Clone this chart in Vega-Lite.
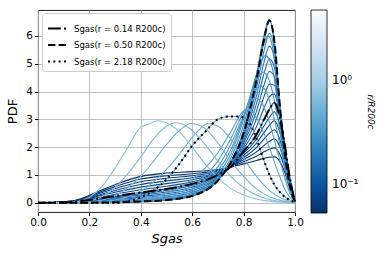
{
"$schema":"https://vega.github.io/schema/vega-lite/v6.json",
"width":257,"height":202,
"autosize":"none",
"padding":{"left":38,"top":10,"right":95,"bottom":48},
"config":{"font":"DejaVu Sans","view":{"stroke":"black","strokeWidth":0.9},
"axis":{"gridColor":"#b0b0b0","gridWidth":0.8,"gridOpacity":1,"domain":false,"tickColor":"black","tickSize":3.5,"labelFontSize":10.5,"labelColor":"black","titleColor":"black","titleFontWeight":"normal","titleFontSize":13,"labelPadding":2,"labelFlush":false}},
"datasets":{
"blue":[
{"r":0.055,"s":0,"p":0},{"r":0.055,"s":0.1,"p":0.04},{"r":0.055,"s":0.15,"p":0.1},{"r":0.055,"s":0.2,"p":0.27},{"r":0.055,"s":0.25,"p":0.47},{"r":0.055,"s":0.3,"p":0.65},{"r":0.055,"s":0.4,"p":0.95},{"r":0.055,"s":0.5,"p":1.07},{"r":0.055,"s":0.6,"p":1.12},{"r":0.055,"s":0.7,"p":1.2},{"r":0.055,"s":0.75,"p":1.28},{"r":0.055,"s":0.8,"p":1.4},{"r":0.055,"s":0.85,"p":1.52},{"r":0.055,"s":0.88,"p":1.6},{"r":0.055,"s":0.9,"p":1.64},{"r":0.055,"s":0.92,"p":1.65},{"r":0.055,"s":0.94,"p":1.5},{"r":0.055,"s":0.96,"p":1.1},{"r":0.055,"s":0.98,"p":0.5},{"r":0.055,"s":1,"p":0.05},
{"r":0.064,"s":0,"p":0},{"r":0.064,"s":0.1,"p":0.035},{"r":0.064,"s":0.15,"p":0.09},{"r":0.064,"s":0.2,"p":0.242},{"r":0.064,"s":0.25,"p":0.42},{"r":0.064,"s":0.3,"p":0.582},{"r":0.064,"s":0.4,"p":0.853},{"r":0.064,"s":0.5,"p":0.975},{"r":0.064,"s":0.6,"p":1.047},{"r":0.064,"s":0.7,"p":1.167},{"r":0.064,"s":0.75,"p":1.283},{"r":0.064,"s":0.8,"p":1.475},{"r":0.064,"s":0.85,"p":1.675},{"r":0.064,"s":0.88,"p":1.833},{"r":0.064,"s":0.9,"p":1.925},{"r":0.064,"s":0.92,"p":1.975},{"r":0.064,"s":0.94,"p":1.767},{"r":0.064,"s":0.96,"p":1.267},{"r":0.064,"s":0.98,"p":0.567},{"r":0.064,"s":1,"p":0.05},
{"r":0.075,"s":0,"p":0},{"r":0.075,"s":0.1,"p":0.03},{"r":0.075,"s":0.15,"p":0.08},{"r":0.075,"s":0.2,"p":0.213},{"r":0.075,"s":0.25,"p":0.37},{"r":0.075,"s":0.3,"p":0.513},{"r":0.075,"s":0.4,"p":0.757},{"r":0.075,"s":0.5,"p":0.88},{"r":0.075,"s":0.6,"p":0.973},{"r":0.075,"s":0.7,"p":1.133},{"r":0.075,"s":0.75,"p":1.287},{"r":0.075,"s":0.8,"p":1.55},{"r":0.075,"s":0.85,"p":1.83},{"r":0.075,"s":0.88,"p":2.067},{"r":0.075,"s":0.9,"p":2.21},{"r":0.075,"s":0.92,"p":2.3},{"r":0.075,"s":0.94,"p":2.033},{"r":0.075,"s":0.96,"p":1.433},{"r":0.075,"s":0.98,"p":0.633},{"r":0.075,"s":1,"p":0.05},
{"r":0.088,"s":0,"p":0},{"r":0.088,"s":0.1,"p":0.025},{"r":0.088,"s":0.15,"p":0.07},{"r":0.088,"s":0.2,"p":0.185},{"r":0.088,"s":0.25,"p":0.32},{"r":0.088,"s":0.3,"p":0.445},{"r":0.088,"s":0.4,"p":0.66},{"r":0.088,"s":0.5,"p":0.785},{"r":0.088,"s":0.6,"p":0.9},{"r":0.088,"s":0.7,"p":1.1},{"r":0.088,"s":0.75,"p":1.29},{"r":0.088,"s":0.8,"p":1.625},{"r":0.088,"s":0.85,"p":1.985},{"r":0.088,"s":0.88,"p":2.3},{"r":0.088,"s":0.9,"p":2.495},{"r":0.088,"s":0.92,"p":2.625},{"r":0.088,"s":0.94,"p":2.3},{"r":0.088,"s":0.96,"p":1.6},{"r":0.088,"s":0.98,"p":0.7},{"r":0.088,"s":1,"p":0.05},
{"r":0.105,"s":0,"p":0},{"r":0.105,"s":0.1,"p":0.02},{"r":0.105,"s":0.15,"p":0.06},{"r":0.105,"s":0.2,"p":0.157},{"r":0.105,"s":0.25,"p":0.27},{"r":0.105,"s":0.3,"p":0.377},{"r":0.105,"s":0.4,"p":0.563},{"r":0.105,"s":0.5,"p":0.69},{"r":0.105,"s":0.6,"p":0.827},{"r":0.105,"s":0.7,"p":1.067},{"r":0.105,"s":0.75,"p":1.293},{"r":0.105,"s":0.8,"p":1.7},{"r":0.105,"s":0.85,"p":2.14},{"r":0.105,"s":0.88,"p":2.533},{"r":0.105,"s":0.9,"p":2.78},{"r":0.105,"s":0.92,"p":2.95},{"r":0.105,"s":0.94,"p":2.567},{"r":0.105,"s":0.96,"p":1.767},{"r":0.105,"s":0.98,"p":0.767},{"r":0.105,"s":1,"p":0.05},
{"r":0.125,"s":0,"p":0},{"r":0.125,"s":0.1,"p":0.015},{"r":0.125,"s":0.15,"p":0.05},{"r":0.125,"s":0.2,"p":0.128},{"r":0.125,"s":0.25,"p":0.22},{"r":0.125,"s":0.3,"p":0.308},{"r":0.125,"s":0.4,"p":0.467},{"r":0.125,"s":0.5,"p":0.595},{"r":0.125,"s":0.6,"p":0.753},{"r":0.125,"s":0.7,"p":1.033},{"r":0.125,"s":0.75,"p":1.297},{"r":0.125,"s":0.8,"p":1.775},{"r":0.125,"s":0.85,"p":2.295},{"r":0.125,"s":0.88,"p":2.767},{"r":0.125,"s":0.9,"p":3.065},{"r":0.125,"s":0.92,"p":3.275},{"r":0.125,"s":0.94,"p":2.833},{"r":0.125,"s":0.96,"p":1.933},{"r":0.125,"s":0.98,"p":0.833},{"r":0.125,"s":1,"p":0.05},
{"r":0.14,"s":0,"p":0},{"r":0.14,"s":0.1,"p":0.01},{"r":0.14,"s":0.15,"p":0.04},{"r":0.14,"s":0.2,"p":0.1},{"r":0.14,"s":0.25,"p":0.17},{"r":0.14,"s":0.3,"p":0.24},{"r":0.14,"s":0.4,"p":0.37},{"r":0.14,"s":0.5,"p":0.5},{"r":0.14,"s":0.6,"p":0.68},{"r":0.14,"s":0.7,"p":1.0},{"r":0.14,"s":0.75,"p":1.3},{"r":0.14,"s":0.8,"p":1.85},{"r":0.14,"s":0.85,"p":2.45},{"r":0.14,"s":0.88,"p":3.0},{"r":0.14,"s":0.9,"p":3.35},{"r":0.14,"s":0.92,"p":3.6},{"r":0.14,"s":0.94,"p":3.1},{"r":0.14,"s":0.96,"p":2.1},{"r":0.14,"s":0.98,"p":0.9},{"r":0.14,"s":1,"p":0.05},
{"r":0.165,"s":0,"p":0},{"r":0.165,"s":0.1,"p":0.009},{"r":0.165,"s":0.15,"p":0.034},{"r":0.165,"s":0.2,"p":0.086},{"r":0.165,"s":0.25,"p":0.147},{"r":0.165,"s":0.3,"p":0.209},{"r":0.165,"s":0.4,"p":0.324},{"r":0.165,"s":0.5,"p":0.443},{"r":0.165,"s":0.6,"p":0.619},{"r":0.165,"s":0.7,"p":0.971},{"r":0.165,"s":0.75,"p":1.321},{"r":0.165,"s":0.8,"p":1.943},{"r":0.165,"s":0.85,"p":2.729},{"r":0.165,"s":0.88,"p":3.414},{"r":0.165,"s":0.9,"p":3.807},{"r":0.165,"s":0.92,"p":3.914},{"r":0.165,"s":0.94,"p":3.171},{"r":0.165,"s":0.96,"p":2.057},{"r":0.165,"s":0.98,"p":0.857},{"r":0.165,"s":1,"p":0.05},
{"r":0.2,"s":0,"p":0},{"r":0.2,"s":0.1,"p":0.007},{"r":0.2,"s":0.15,"p":0.029},{"r":0.2,"s":0.2,"p":0.073},{"r":0.2,"s":0.25,"p":0.124},{"r":0.2,"s":0.3,"p":0.177},{"r":0.2,"s":0.4,"p":0.279},{"r":0.2,"s":0.5,"p":0.386},{"r":0.2,"s":0.6,"p":0.557},{"r":0.2,"s":0.7,"p":0.943},{"r":0.2,"s":0.75,"p":1.343},{"r":0.2,"s":0.8,"p":2.036},{"r":0.2,"s":0.85,"p":3.007},{"r":0.2,"s":0.88,"p":3.829},{"r":0.2,"s":0.9,"p":4.264},{"r":0.2,"s":0.92,"p":4.229},{"r":0.2,"s":0.94,"p":3.243},{"r":0.2,"s":0.96,"p":2.014},{"r":0.2,"s":0.98,"p":0.814},{"r":0.2,"s":1,"p":0.05},
{"r":0.24,"s":0,"p":0},{"r":0.24,"s":0.1,"p":0.006},{"r":0.24,"s":0.15,"p":0.023},{"r":0.24,"s":0.2,"p":0.059},{"r":0.24,"s":0.25,"p":0.101},{"r":0.24,"s":0.3,"p":0.146},{"r":0.24,"s":0.4,"p":0.233},{"r":0.24,"s":0.5,"p":0.329},{"r":0.24,"s":0.6,"p":0.496},{"r":0.24,"s":0.7,"p":0.914},{"r":0.24,"s":0.75,"p":1.364},{"r":0.24,"s":0.8,"p":2.129},{"r":0.24,"s":0.85,"p":3.286},{"r":0.24,"s":0.88,"p":4.243},{"r":0.24,"s":0.9,"p":4.721},{"r":0.24,"s":0.92,"p":4.543},{"r":0.24,"s":0.94,"p":3.314},{"r":0.24,"s":0.96,"p":1.971},{"r":0.24,"s":0.98,"p":0.771},{"r":0.24,"s":1,"p":0.05},
{"r":0.29,"s":0,"p":0},{"r":0.29,"s":0.1,"p":0.004},{"r":0.29,"s":0.15,"p":0.017},{"r":0.29,"s":0.2,"p":0.046},{"r":0.29,"s":0.25,"p":0.079},{"r":0.29,"s":0.3,"p":0.114},{"r":0.29,"s":0.4,"p":0.187},{"r":0.29,"s":0.5,"p":0.271},{"r":0.29,"s":0.6,"p":0.434},{"r":0.29,"s":0.7,"p":0.886},{"r":0.29,"s":0.75,"p":1.386},{"r":0.29,"s":0.8,"p":2.221},{"r":0.29,"s":0.85,"p":3.564},{"r":0.29,"s":0.88,"p":4.657},{"r":0.29,"s":0.9,"p":5.179},{"r":0.29,"s":0.92,"p":4.857},{"r":0.29,"s":0.94,"p":3.386},{"r":0.29,"s":0.96,"p":1.929},{"r":0.29,"s":0.98,"p":0.729},{"r":0.29,"s":1,"p":0.05},
{"r":0.35,"s":0,"p":0},{"r":0.35,"s":0.1,"p":0.003},{"r":0.35,"s":0.15,"p":0.011},{"r":0.35,"s":0.2,"p":0.032},{"r":0.35,"s":0.25,"p":0.056},{"r":0.35,"s":0.3,"p":0.083},{"r":0.35,"s":0.4,"p":0.141},{"r":0.35,"s":0.5,"p":0.214},{"r":0.35,"s":0.6,"p":0.373},{"r":0.35,"s":0.7,"p":0.857},{"r":0.35,"s":0.75,"p":1.407},{"r":0.35,"s":0.8,"p":2.314},{"r":0.35,"s":0.85,"p":3.843},{"r":0.35,"s":0.88,"p":5.071},{"r":0.35,"s":0.9,"p":5.636},{"r":0.35,"s":0.92,"p":5.171},{"r":0.35,"s":0.94,"p":3.457},{"r":0.35,"s":0.96,"p":1.886},{"r":0.35,"s":0.98,"p":0.686},{"r":0.35,"s":1,"p":0.05},
{"r":0.42,"s":0,"p":0},{"r":0.42,"s":0.1,"p":0.001},{"r":0.42,"s":0.15,"p":0.006},{"r":0.42,"s":0.2,"p":0.019},{"r":0.42,"s":0.25,"p":0.033},{"r":0.42,"s":0.3,"p":0.051},{"r":0.42,"s":0.4,"p":0.096},{"r":0.42,"s":0.5,"p":0.157},{"r":0.42,"s":0.6,"p":0.311},{"r":0.42,"s":0.7,"p":0.829},{"r":0.42,"s":0.75,"p":1.429},{"r":0.42,"s":0.8,"p":2.407},{"r":0.42,"s":0.85,"p":4.121},{"r":0.42,"s":0.88,"p":5.486},{"r":0.42,"s":0.9,"p":6.093},{"r":0.42,"s":0.92,"p":5.486},{"r":0.42,"s":0.94,"p":3.529},{"r":0.42,"s":0.96,"p":1.843},{"r":0.42,"s":0.98,"p":0.643},{"r":0.42,"s":1,"p":0.05},
{"r":0.5,"s":0,"p":0},{"r":0.5,"s":0.1,"p":0},{"r":0.5,"s":0.15,"p":0},{"r":0.5,"s":0.2,"p":0.005},{"r":0.5,"s":0.25,"p":0.01},{"r":0.5,"s":0.3,"p":0.02},{"r":0.5,"s":0.4,"p":0.05},{"r":0.5,"s":0.5,"p":0.1},{"r":0.5,"s":0.6,"p":0.25},{"r":0.5,"s":0.7,"p":0.8},{"r":0.5,"s":0.75,"p":1.45},{"r":0.5,"s":0.8,"p":2.5},{"r":0.5,"s":0.85,"p":4.4},{"r":0.5,"s":0.88,"p":5.9},{"r":0.5,"s":0.9,"p":6.55},{"r":0.5,"s":0.92,"p":5.8},{"r":0.5,"s":0.94,"p":3.6},{"r":0.5,"s":0.96,"p":1.8},{"r":0.5,"s":0.98,"p":0.6},{"r":0.5,"s":1,"p":0.05},
{"r":0.6,"s":0,"p":0},{"r":0.6,"s":0.3,"p":0.01},{"r":0.6,"s":0.4,"p":0.04},{"r":0.6,"s":0.5,"p":0.09},{"r":0.6,"s":0.6,"p":0.24},{"r":0.6,"s":0.65,"p":0.45},{"r":0.6,"s":0.7,"p":0.8},{"r":0.6,"s":0.75,"p":1.45},{"r":0.6,"s":0.8,"p":2.6},{"r":0.6,"s":0.85,"p":4.6},{"r":0.6,"s":0.88,"p":6.05},{"r":0.6,"s":0.9,"p":6.6},{"r":0.6,"s":0.92,"p":5.7},{"r":0.6,"s":0.94,"p":3.5},{"r":0.6,"s":0.96,"p":1.7},{"r":0.6,"s":0.98,"p":0.55},{"r":0.6,"s":1,"p":0.05},
{"r":0.72,"s":0,"p":0},{"r":0.72,"s":0.3,"p":0.01},{"r":0.72,"s":0.4,"p":0.04},{"r":0.72,"s":0.5,"p":0.1},{"r":0.72,"s":0.6,"p":0.28},{"r":0.72,"s":0.65,"p":0.52},{"r":0.72,"s":0.7,"p":0.9},{"r":0.72,"s":0.75,"p":1.6},{"r":0.72,"s":0.8,"p":2.8},{"r":0.72,"s":0.85,"p":4.6},{"r":0.72,"s":0.875,"p":5.6},{"r":0.72,"s":0.895,"p":6.0},{"r":0.72,"s":0.92,"p":5.2},{"r":0.72,"s":0.94,"p":3.4},{"r":0.72,"s":0.96,"p":1.6},{"r":0.72,"s":0.98,"p":0.5},{"r":0.72,"s":1,"p":0.04},
{"r":0.87,"s":0,"p":0},{"r":0.87,"s":0.3,"p":0.01},{"r":0.87,"s":0.4,"p":0.05},{"r":0.87,"s":0.5,"p":0.12},{"r":0.87,"s":0.6,"p":0.33},{"r":0.87,"s":0.65,"p":0.6},{"r":0.87,"s":0.7,"p":1.02},{"r":0.87,"s":0.75,"p":1.75},{"r":0.87,"s":0.8,"p":3.0},{"r":0.87,"s":0.85,"p":4.6},{"r":0.87,"s":0.885,"p":5.3},{"r":0.87,"s":0.91,"p":4.9},{"r":0.87,"s":0.935,"p":3.5},{"r":0.87,"s":0.96,"p":1.6},{"r":0.87,"s":0.98,"p":0.5},{"r":0.87,"s":1,"p":0.04},
{"r":1.04,"s":0,"p":0},{"r":1.04,"s":0.3,"p":0.02},{"r":1.04,"s":0.4,"p":0.06},{"r":1.04,"s":0.5,"p":0.15},{"r":1.04,"s":0.6,"p":0.4},{"r":1.04,"s":0.65,"p":0.7},{"r":1.04,"s":0.7,"p":1.15},{"r":1.04,"s":0.75,"p":1.9},{"r":1.04,"s":0.8,"p":3.1},{"r":1.04,"s":0.85,"p":4.4},{"r":1.04,"s":0.875,"p":4.7},{"r":1.04,"s":0.9,"p":4.4},{"r":1.04,"s":0.93,"p":3.2},{"r":1.04,"s":0.96,"p":1.5},{"r":1.04,"s":0.98,"p":0.5},{"r":1.04,"s":1,"p":0.04},
{"r":1.25,"s":0,"p":0},{"r":1.25,"s":0.3,"p":0.02},{"r":1.25,"s":0.4,"p":0.07},{"r":1.25,"s":0.5,"p":0.18},{"r":1.25,"s":0.6,"p":0.48},{"r":1.25,"s":0.65,"p":0.82},{"r":1.25,"s":0.7,"p":1.3},{"r":1.25,"s":0.75,"p":2.1},{"r":1.25,"s":0.8,"p":3.15},{"r":1.25,"s":0.84,"p":4.0},{"r":1.25,"s":0.865,"p":4.2},{"r":1.25,"s":0.89,"p":3.95},{"r":1.25,"s":0.92,"p":3.0},{"r":1.25,"s":0.95,"p":1.7},{"r":1.25,"s":0.98,"p":0.5},{"r":1.25,"s":1,"p":0.04},
{"r":1.5,"s":0,"p":0},{"r":1.5,"s":0.3,"p":0.03},{"r":1.5,"s":0.4,"p":0.09},{"r":1.5,"s":0.5,"p":0.24},{"r":1.5,"s":0.6,"p":0.6},{"r":1.5,"s":0.65,"p":0.98},{"r":1.5,"s":0.7,"p":1.5},{"r":1.5,"s":0.75,"p":2.3},{"r":1.5,"s":0.8,"p":3.25},{"r":1.5,"s":0.845,"p":3.75},{"r":1.5,"s":0.87,"p":3.6},{"r":1.5,"s":0.9,"p":2.9},{"r":1.5,"s":0.93,"p":1.9},{"r":1.5,"s":0.96,"p":0.9},{"r":1.5,"s":0.98,"p":0.35},{"r":1.5,"s":1,"p":0.03},
{"r":1.81,"s":0,"p":0},{"r":1.81,"s":0.3,"p":0.02},{"r":1.81,"s":0.35,"p":0.05},{"r":1.81,"s":0.4,"p":0.12},{"r":1.81,"s":0.45,"p":0.2},{"r":1.81,"s":0.5,"p":0.35},{"r":1.81,"s":0.55,"p":0.55},{"r":1.81,"s":0.6,"p":0.85},{"r":1.81,"s":0.65,"p":1.25},{"r":1.81,"s":0.7,"p":1.8},{"r":1.81,"s":0.75,"p":2.55},{"r":1.81,"s":0.81,"p":3.35},{"r":1.81,"s":0.84,"p":3.2},{"r":1.81,"s":0.87,"p":2.7},{"r":1.81,"s":0.9,"p":2.0},{"r":1.81,"s":0.93,"p":1.2},{"r":1.81,"s":0.96,"p":0.5},{"r":1.81,"s":0.98,"p":0.2},{"r":1.81,"s":1,"p":0.02},
{"r":2.18,"s":0,"p":0},{"r":2.18,"s":0.3,"p":0},{"r":2.18,"s":0.35,"p":0.05},{"r":2.18,"s":0.4,"p":0.2},{"r":2.18,"s":0.45,"p":0.45},{"r":2.18,"s":0.5,"p":0.85},{"r":2.18,"s":0.55,"p":1.4},{"r":2.18,"s":0.6,"p":2.05},{"r":2.18,"s":0.65,"p":2.55},{"r":2.18,"s":0.7,"p":3.0},{"r":2.18,"s":0.74,"p":3.1},{"r":2.18,"s":0.78,"p":3.1},{"r":2.18,"s":0.81,"p":3.0},{"r":2.18,"s":0.84,"p":2.55},{"r":2.18,"s":0.865,"p":1.9},{"r":2.18,"s":0.89,"p":1.25},{"r":2.18,"s":0.92,"p":0.65},{"r":2.18,"s":0.95,"p":0.3},{"r":2.18,"s":0.97,"p":0.15},{"r":2.18,"s":1,"p":0.02},
{"r":2.6,"s":0,"p":0},{"r":2.6,"s":0.2,"p":0.01},{"r":2.6,"s":0.25,"p":0.04},{"r":2.6,"s":0.3,"p":0.1},{"r":2.6,"s":0.35,"p":0.22},{"r":2.6,"s":0.4,"p":0.42},{"r":2.6,"s":0.45,"p":0.75},{"r":2.6,"s":0.5,"p":1.2},{"r":2.6,"s":0.55,"p":1.75},{"r":2.6,"s":0.6,"p":2.35},{"r":2.6,"s":0.63,"p":2.65},{"r":2.6,"s":0.66,"p":2.85},{"r":2.6,"s":0.7,"p":2.75},{"r":2.6,"s":0.75,"p":2.3},{"r":2.6,"s":0.8,"p":1.6},{"r":2.6,"s":0.85,"p":0.95},{"r":2.6,"s":0.9,"p":0.45},{"r":2.6,"s":0.95,"p":0.15},{"r":2.6,"s":1,"p":0.01},
{"r":3.1,"s":0,"p":0},{"r":3.1,"s":0.15,"p":0.01},{"r":3.1,"s":0.2,"p":0.03},{"r":3.1,"s":0.25,"p":0.1},{"r":3.1,"s":0.3,"p":0.25},{"r":3.1,"s":0.35,"p":0.55},{"r":3.1,"s":0.4,"p":0.95},{"r":3.1,"s":0.45,"p":1.5},{"r":3.1,"s":0.5,"p":2.1},{"r":3.1,"s":0.55,"p":2.6},{"r":3.1,"s":0.595,"p":2.85},{"r":3.1,"s":0.63,"p":2.78},{"r":3.1,"s":0.67,"p":2.5},{"r":3.1,"s":0.7,"p":2.15},{"r":3.1,"s":0.75,"p":1.5},{"r":3.1,"s":0.8,"p":0.95},{"r":3.1,"s":0.85,"p":0.5},{"r":3.1,"s":0.9,"p":0.22},{"r":3.1,"s":0.95,"p":0.07},{"r":3.1,"s":1,"p":0},
{"r":3.7,"s":0,"p":0},{"r":3.7,"s":0.1,"p":0},{"r":3.7,"s":0.15,"p":0.02},{"r":3.7,"s":0.2,"p":0.07},{"r":3.7,"s":0.25,"p":0.22},{"r":3.7,"s":0.3,"p":0.55},{"r":3.7,"s":0.35,"p":1.05},{"r":3.7,"s":0.4,"p":1.65},{"r":3.7,"s":0.45,"p":2.3},{"r":3.7,"s":0.5,"p":2.75},{"r":3.7,"s":0.535,"p":2.88},{"r":3.7,"s":0.57,"p":2.8},{"r":3.7,"s":0.6,"p":2.6},{"r":3.7,"s":0.65,"p":2.1},{"r":3.7,"s":0.7,"p":1.5},{"r":3.7,"s":0.75,"p":0.95},{"r":3.7,"s":0.8,"p":0.55},{"r":3.7,"s":0.85,"p":0.28},{"r":3.7,"s":0.9,"p":0.12},{"r":3.7,"s":0.95,"p":0.04},{"r":3.7,"s":1,"p":0},
{"r":4.5,"s":0,"p":0},{"r":4.5,"s":0.05,"p":0},{"r":4.5,"s":0.1,"p":0.01},{"r":4.5,"s":0.15,"p":0.04},{"r":4.5,"s":0.2,"p":0.2},{"r":4.5,"s":0.25,"p":0.6},{"r":4.5,"s":0.3,"p":1.25},{"r":4.5,"s":0.35,"p":2.0},{"r":4.5,"s":0.4,"p":2.72},{"r":4.5,"s":0.43,"p":2.82},{"r":4.5,"s":0.465,"p":2.95},{"r":4.5,"s":0.5,"p":2.88},{"r":4.5,"s":0.55,"p":2.55},{"r":4.5,"s":0.6,"p":2.0},{"r":4.5,"s":0.65,"p":1.4},{"r":4.5,"s":0.7,"p":0.9},{"r":4.5,"s":0.75,"p":0.52},{"r":4.5,"s":0.8,"p":0.28},{"r":4.5,"s":0.85,"p":0.14},{"r":4.5,"s":0.9,"p":0.06},{"r":4.5,"s":0.95,"p":0.02},{"r":4.5,"s":1,"p":0}
],
"black":[
{"k":"Sgas(r = 0.14 R200c)","s":0,"p":0},{"k":"Sgas(r = 0.14 R200c)","s":0.1,"p":0.01},{"k":"Sgas(r = 0.14 R200c)","s":0.15,"p":0.04},{"k":"Sgas(r = 0.14 R200c)","s":0.2,"p":0.1},{"k":"Sgas(r = 0.14 R200c)","s":0.25,"p":0.17},{"k":"Sgas(r = 0.14 R200c)","s":0.3,"p":0.24},{"k":"Sgas(r = 0.14 R200c)","s":0.4,"p":0.37},{"k":"Sgas(r = 0.14 R200c)","s":0.5,"p":0.5},{"k":"Sgas(r = 0.14 R200c)","s":0.6,"p":0.68},{"k":"Sgas(r = 0.14 R200c)","s":0.7,"p":1.0},{"k":"Sgas(r = 0.14 R200c)","s":0.75,"p":1.3},{"k":"Sgas(r = 0.14 R200c)","s":0.8,"p":1.85},{"k":"Sgas(r = 0.14 R200c)","s":0.85,"p":2.45},{"k":"Sgas(r = 0.14 R200c)","s":0.88,"p":3.0},{"k":"Sgas(r = 0.14 R200c)","s":0.9,"p":3.35},{"k":"Sgas(r = 0.14 R200c)","s":0.92,"p":3.6},{"k":"Sgas(r = 0.14 R200c)","s":0.94,"p":3.1},{"k":"Sgas(r = 0.14 R200c)","s":0.96,"p":2.1},{"k":"Sgas(r = 0.14 R200c)","s":0.98,"p":0.9},{"k":"Sgas(r = 0.14 R200c)","s":1,"p":0.05},
{"k":"Sgas(r = 0.50 R200c)","s":0,"p":0},{"k":"Sgas(r = 0.50 R200c)","s":0.1,"p":0},{"k":"Sgas(r = 0.50 R200c)","s":0.15,"p":0},{"k":"Sgas(r = 0.50 R200c)","s":0.2,"p":0.005},{"k":"Sgas(r = 0.50 R200c)","s":0.25,"p":0.01},{"k":"Sgas(r = 0.50 R200c)","s":0.3,"p":0.02},{"k":"Sgas(r = 0.50 R200c)","s":0.4,"p":0.05},{"k":"Sgas(r = 0.50 R200c)","s":0.5,"p":0.1},{"k":"Sgas(r = 0.50 R200c)","s":0.6,"p":0.25},{"k":"Sgas(r = 0.50 R200c)","s":0.7,"p":0.8},{"k":"Sgas(r = 0.50 R200c)","s":0.75,"p":1.45},{"k":"Sgas(r = 0.50 R200c)","s":0.8,"p":2.5},{"k":"Sgas(r = 0.50 R200c)","s":0.85,"p":4.4},{"k":"Sgas(r = 0.50 R200c)","s":0.88,"p":5.9},{"k":"Sgas(r = 0.50 R200c)","s":0.9,"p":6.55},{"k":"Sgas(r = 0.50 R200c)","s":0.92,"p":5.8},{"k":"Sgas(r = 0.50 R200c)","s":0.94,"p":3.6},{"k":"Sgas(r = 0.50 R200c)","s":0.96,"p":1.8},{"k":"Sgas(r = 0.50 R200c)","s":0.98,"p":0.6},{"k":"Sgas(r = 0.50 R200c)","s":1,"p":0.05},
{"k":"Sgas(r = 2.18 R200c)","s":0,"p":0},{"k":"Sgas(r = 2.18 R200c)","s":0.3,"p":0},{"k":"Sgas(r = 2.18 R200c)","s":0.35,"p":0.05},{"k":"Sgas(r = 2.18 R200c)","s":0.4,"p":0.2},{"k":"Sgas(r = 2.18 R200c)","s":0.45,"p":0.45},{"k":"Sgas(r = 2.18 R200c)","s":0.5,"p":0.85},{"k":"Sgas(r = 2.18 R200c)","s":0.55,"p":1.4},{"k":"Sgas(r = 2.18 R200c)","s":0.6,"p":2.05},{"k":"Sgas(r = 2.18 R200c)","s":0.65,"p":2.55},{"k":"Sgas(r = 2.18 R200c)","s":0.7,"p":3.0},{"k":"Sgas(r = 2.18 R200c)","s":0.74,"p":3.1},{"k":"Sgas(r = 2.18 R200c)","s":0.78,"p":3.1},{"k":"Sgas(r = 2.18 R200c)","s":0.81,"p":3.0},{"k":"Sgas(r = 2.18 R200c)","s":0.84,"p":2.55},{"k":"Sgas(r = 2.18 R200c)","s":0.865,"p":1.9},{"k":"Sgas(r = 2.18 R200c)","s":0.89,"p":1.25},{"k":"Sgas(r = 2.18 R200c)","s":0.92,"p":0.65},{"k":"Sgas(r = 2.18 R200c)","s":0.95,"p":0.3},{"k":"Sgas(r = 2.18 R200c)","s":0.97,"p":0.15},{"k":"Sgas(r = 2.18 R200c)","s":1,"p":0.02}
]},
"encoding":{
"x":{"field":"s","type":"quantitative","scale":{"domain":[0,1],"nice":false},"axis":{"values":[0,0.2,0.4,0.6,0.8,1],"format":".1f","title":"Sgas","titleFontStyle":"italic","titlePadding":4}},
"y":{"field":"p","type":"quantitative","scale":{"domain":[-0.33,6.93],"nice":false,"zero":false},"axis":{"values":[0,1,2,3,4,5,6],"format":"d","title":"PDF","titlePadding":6}}
},
"resolve":{"legend":{"fill":"independent","stroke":"independent","strokeDash":"independent"},"scale":{"fill":"independent","stroke":"independent"}},
"layer":[
{"data":{"name":"blue"},"mark":{"type":"line","interpolate":"monotone","strokeWidth":1.1},
"encoding":{"detail":{"field":"r","type":"nominal"},
"stroke":{"field":"r","type":"quantitative","scale":{"type":"log","domain":[0.053,4.7],"range":["#08306b","#08519c","#2171b5","#3b8bc5","#5ea5d3","#8cc0e0"]},"legend":null}}},
{"data":{"name":"blue"},"mark":{"type":"point","filled":true,"opacity":0},
"encoding":{"fill":{"field":"r","type":"quantitative","scale":{"type":"log","domain":[0.053,4.7],"range":["#08306b","#08519c","#2171b5","#4292c6","#6baed6","#9ecae1","#c6dbef","#deebf7","#f7fbff"]},
"legend":{"type":"gradient","orient":"right","offset":12,"direction":"vertical","gradientLength":203,"gradientThickness":16,"gradientStrokeColor":"black","gradientStrokeWidth":0.8,"values":[0.1,1],"labelExpr":"datum.value < 0.5 ? '10⁻¹' : '10⁰'","labelFontSize":12,"labelColor":"black","labelOffset":5,"title":"r/R200c","titleOrient":"right","titleAngle":270,"titleFontSize":9,"titleFontWeight":"normal","titleFontStyle":"italic","titleColor":"black","titleAnchor":"middle","titlePadding":8,"padding":0}}}},
{"data":{"name":"black"},"mark":{"type":"line","interpolate":"monotone","strokeWidth":2,"color":"black"},
"encoding":{"strokeDash":{"field":"k","type":"nominal","scale":{"domain":["Sgas(r = 0.14 R200c)","Sgas(r = 0.50 R200c)","Sgas(r = 2.18 R200c)"],"range":[[12.8,3.2,2,3.2],[7.4,3.2],[2,3.3]]},
"legend":{"orient":"none","legendX":4,"legendY":3,"title":null,"symbolType":"stroke","symbolStrokeColor":"black","symbolStrokeWidth":1.8,"symbolSize":360,"labelFontSize":8.5,"labelColor":"black","fillColor":"white","strokeColor":"#cccccc","cornerRadius":3,"padding":5,"rowPadding":1.5,"labelOffset":6}}}}
]
}
